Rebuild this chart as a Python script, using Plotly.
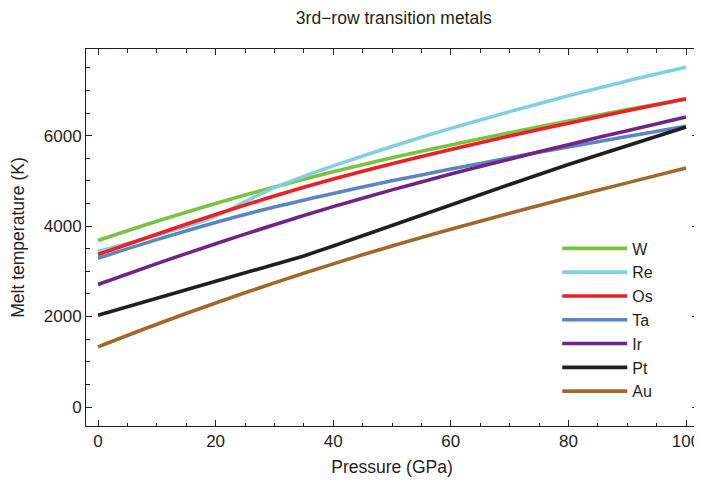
import plotly.graph_objects as go

# ---- data ----
pressure = [0, 10, 20, 30, 40, 50, 60, 70, 80, 90, 100]
W = [3680, 4105, 4500, 4865, 5200, 5510, 5795, 6065, 6325, 6575, 6810]
Os = [3370, 3820, 4255, 4665, 5040, 5380, 5695, 5990, 6275, 6550, 6815]
Ta = [3290, 3700, 4080, 4420, 4720, 5000, 5260, 5510, 5750, 5980, 6205]
Ir = [2710, 3170, 3610, 4030, 4430, 4800, 5150, 5480, 5800, 6110, 6410]
Au = [1330, 1830, 2300, 2745, 3165, 3560, 3930, 4285, 4625, 4955, 5285]

pressure_re = [0, 10, 20, 25, 30, 35, 40, 50, 60, 70, 80, 90, 100]
Re = [3440, 3800, 4215, 4540, 4850, 5100, 5330, 5760, 6160, 6530, 6880, 7210, 7510]

pressure_pt = [0, 10, 20, 30, 35, 40, 50, 60, 70, 80, 90, 100]
Pt = [2030, 2410, 2780, 3150, 3340, 3560, 4020, 4480, 4920, 5360, 5780, 6190]

series = [
    ("W", pressure, W, "#7cc242"),
    ("Re", pressure_re, Re, "#80d0de"),
    ("Os", pressure, Os, "#ed2027"),
    ("Ta", pressure, Ta, "#5b86c2"),
    ("Ir", pressure, Ir, "#702584"),
    ("Pt", pressure_pt, Pt, "#231f20"),
    ("Au", pressure, Au, "#a0682a"),
]

fig = go.Figure()
for name, px, py, col in series:
    shape = "linear" if name == "Pt" else "spline"
    fig.add_trace(go.Scatter(
        x=px, y=py, name=name, mode="lines",
        line=dict(color=col, width=3.6, shape=shape, smoothing=0.8),
        legendgroup=name,
    ))

font_fam = "Liberation Sans, Arial, sans-serif"
axcol = "#231f20"

# the page body adds an 8px margin, so the figure is sized to fit the window
fig.update_layout(
    width=694, height=477,
    margin=dict(l=78, r=4, t=41, b=59),
    paper_bgcolor="white", plot_bgcolor="white",
    font=dict(family=font_fam, size=17, color=axcol),
    title=dict(text="3rd\u2212row transition metals", x=0.556, xanchor="center",
               y=0.98, yanchor="middle", font=dict(size=17.5, color=axcol)),
    showlegend=True,
    legend=dict(x=0.77, y=0.516, xanchor="left", yanchor="top",
                bgcolor="rgba(0,0,0,0)", font=dict(size=16, color=axcol),
                tracegroupgap=0, itemwidth=65),
)

fig.update_xaxes(
    range=[-2.04, 102.04], showgrid=False, zeroline=False, automargin=False,
    showline=True, linecolor=axcol, linewidth=1, mirror="ticks",
    ticks="inside", ticklen=6, tickcolor=axcol, tickwidth=1,
    tickvals=[0, 20, 40, 60, 80, 100],
    minor=dict(ticks="inside", ticklen=3.5, dtick=5, tick0=0, tickcolor=axcol, showgrid=False),
    title=dict(text="Pressure (GPa)", font=dict(size=17.5), standoff=10),
    tickfont=dict(size=17),
)
fig.update_yaxes(
    range=[-420, 7915], showgrid=False, zeroline=False, automargin=False,
    showline=True, linecolor=axcol, linewidth=1, mirror="ticks",
    ticks="inside", ticklen=6, tickcolor=axcol, tickwidth=1,
    tickvals=[0, 2000, 4000, 6000],
    minor=dict(ticks="inside", ticklen=3.5, dtick=500, tick0=0, tickcolor=axcol, showgrid=False),
    title=dict(text="Melt temperature (K)", font=dict(size=17.5), standoff=15),
    tickfont=dict(size=17),
)

fig.write_html("out.html")
